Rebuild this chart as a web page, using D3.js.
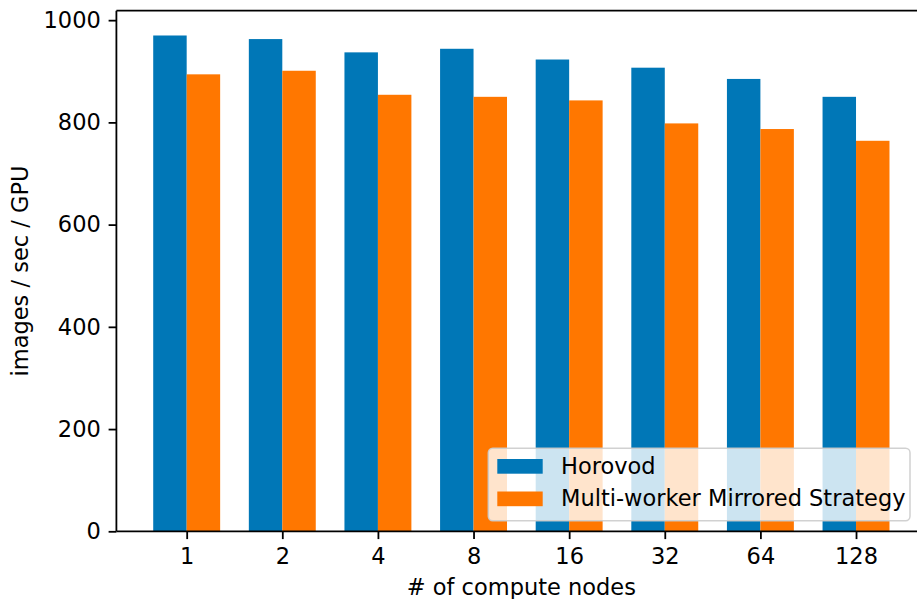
<!DOCTYPE html>
<html>
<head>
<meta charset="utf-8">
<script src="https://cdn.jsdelivr.net/npm/d3@7"></script>
<style>
  html, body { margin: 0; padding: 0; background: #fff; }
  svg { display: block; font-family: "DejaVu Sans", sans-serif; }
</style>
</head>
<body>
<svg id="chart" width="917" height="599"></svg>
<script>
// Throughput per GPU for each cluster size
const nodeCounts = ["1", "2", "4", "8", "16", "32", "64", "128"];
const horovod = [970, 963, 937, 944, 923, 907, 885, 850];
const mirrored = [894, 901, 854, 850, 843, 798, 787, 764];
const seriesNames = ["Horovod", "Multi-worker Mirrored Strategy"];
const seriesColors = ["#0077b7", "#ff7700"];
const yTicks = [0, 200, 400, 600, 800, 1000];

(function () {
  const svg = d3.select("#chart");
  const fontSize = 22.5;
  const tickLen = 7.8, tickPad = 7.8;
  const barWidth = 0.35;

  // Plot area
  const plotLeft = 116.4, plotRight = 926.3, plotTop = 10.7, plotBottom = 531.3;
  const x = d3.scaleLinear().domain([-0.735, 7.735]).range([plotLeft, plotRight]);
  const y = d3.scaleLinear().domain([0, 1018.5]).range([plotBottom, plotTop]);

  // Bars: first series to the left of the tick, second to the right
  const series = [horovod, mirrored];
  series.forEach((vals, s) => {
    svg.append("g").selectAll("rect")
      .data(vals)
      .join("rect")
      .attr("x", (d, i) => x(i + (s === 0 ? -barWidth : 0)))
      .attr("width", x(barWidth) - x(0))
      .attr("y", d => y(d))
      .attr("height", d => y(0) - y(d))
      .attr("fill", seriesColors[s]);
  });

  // Axes
  const xAxis = d3.axisBottom(x)
    .tickValues(d3.range(nodeCounts.length))
    .tickFormat(i => nodeCounts[i])
    .tickSize(tickLen).tickPadding(tickPad);
  const yAxis = d3.axisLeft(y)
    .tickValues(yTicks)
    .tickFormat(d3.format("d"))
    .tickSize(tickLen).tickPadding(tickPad);

  const gx = svg.append("g").attr("transform", `translate(0,${plotBottom})`).call(xAxis);
  const gy = svg.append("g").attr("transform", `translate(${plotLeft},0)`).call(yAxis);
  [gx, gy].forEach(g => {
    g.select(".domain").remove();
    g.selectAll(".tick line").attr("stroke", "#000").attr("stroke-width", 1.8);
    g.selectAll(".tick text")
      .attr("font-family", "DejaVu Sans")
      .attr("font-size", fontSize)
      .attr("fill", "#000");
  });
  gx.selectAll(".tick text").attr("dy", "0.74em");

  // Spines
  const spines = svg.append("g").attr("stroke", "#000").attr("stroke-width", 1.8).attr("fill", "none");
  spines.append("line").attr("x1", plotLeft).attr("x2", plotLeft).attr("y1", plotTop).attr("y2", plotBottom);
  spines.append("line").attr("x1", plotLeft).attr("x2", plotRight).attr("y1", plotBottom).attr("y2", plotBottom);
  spines.append("line").attr("x1", plotLeft).attr("x2", plotRight).attr("y1", plotTop).attr("y2", plotTop);
  spines.append("line").attr("x1", plotRight).attr("x2", plotRight).attr("y1", plotTop).attr("y2", plotBottom);

  // Axis titles
  svg.append("text")
    .attr("x", (plotLeft + plotRight) / 2).attr("y", 595)
    .attr("text-anchor", "middle")
    .attr("font-size", fontSize).attr("fill", "#000")
    .text("# of compute nodes");
  svg.append("text")
    .attr("transform", `translate(28,${(plotTop + plotBottom) / 2}) rotate(-90)`)
    .attr("text-anchor", "middle")
    .attr("font-size", fontSize).attr("fill", "#000")
    .text("images / sec / GPU");

  // Legend
  const lg = svg.append("g");
  lg.append("rect")
    .attr("x", 488.3).attr("y", 448.3)
    .attr("width", 421.7).attr("height", 72.4)
    .attr("rx", 4.4).attr("ry", 4.4)
    .attr("fill", "#fff").attr("fill-opacity", 0.8)
    .attr("stroke", "#cccccc").attr("stroke-opacity", 0.9).attr("stroke-width", 1.5);
  const rows = [473.5, 506];
  seriesNames.forEach((name, i) => {
    lg.append("rect")
      .attr("x", 497.3).attr("y", rows[i] - 14.5)
      .attr("width", 45.4).attr("height", 14.7)
      .attr("fill", seriesColors[i]);
    lg.append("text")
      .attr("x", 561).attr("y", rows[i])
      .attr("font-size", fontSize).attr("fill", "#000")
      .text(name);
  });
})();
</script>
</body>
</html>
